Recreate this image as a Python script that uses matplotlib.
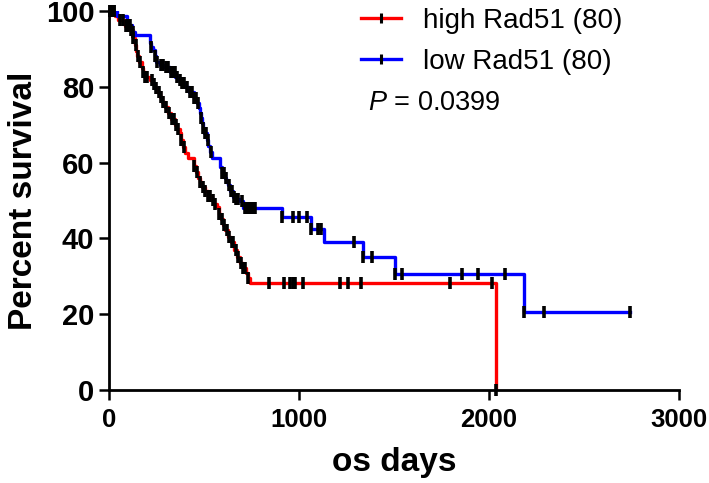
import numpy as np
import matplotlib.pyplot as plt
from matplotlib.lines import Line2D

plt.rcParams['font.family'] = 'Liberation Sans'
plt.rcParams['mathtext.fontset'] = 'custom'
plt.rcParams['mathtext.it'] = 'Liberation Sans:italic'
plt.rcParams['mathtext.rm'] = 'Liberation Sans'

# Kaplan-Meier steps (days, percent survival)
high_t = [0, 30, 50, 85, 110, 125, 135, 143, 150, 160, 172, 180, 188, 214, 228, 241,
          255, 267, 280, 293, 309, 325, 346, 360, 372, 380, 388, 400, 415, 445, 458,
          470, 480, 490, 505, 520, 540, 555, 570, 580, 590, 600, 610, 625, 640, 660,
          675, 690, 705, 720, 730, 741, 2037]
high_s = [100, 98.7, 97.5, 96, 95, 93, 91, 89.5, 88, 86.5, 85, 83.8, 82.6, 81.8, 80.7,
          79.7, 78.5, 77.3, 76, 74.7, 73, 71.5, 70, 69, 67.8, 66, 64, 62.5, 61.3, 59,
          57.5, 56, 54.8, 53.6, 52.4, 51.3, 50.1, 49.2, 48.3, 46.5, 45, 43.5, 42.2, 40.5,
          39, 36.9, 35, 33.5, 32.3, 31, 29.5, 28.2, 0]

low_t = [0, 40, 95, 120, 135, 215, 222, 230, 240, 250, 270, 290, 320, 350, 370, 385,
         400, 420, 445, 465, 472, 480, 485, 490, 495, 500, 515, 522, 530, 541, 584, 594,
         609, 617, 625, 638, 652, 670, 689, 704, 913, 1063, 1133, 1335, 1505, 2182, 2743]
low_s = [100, 98.7, 96.3, 94.5, 93.8, 91.5, 90.5, 89.7, 88, 86.5, 85.8, 85.2, 84, 82.6,
         81.8, 81, 80, 78.6, 77, 75.7, 74.4, 73, 71.8, 70.5, 69.2, 67.8, 66, 64.4, 62.8,
         61.2, 58.8, 57.3, 56, 55, 54, 52.5, 51, 50.5, 50, 48.1, 45.7, 42.4, 39, 35, 30.6,
         20.5, 20.5]

# censored times
high_cens = [5, 15, 25, 60, 75, 90, 100, 115, 128, 140, 155, 165, 180, 190, 200,
             225, 235, 250, 262, 275, 285, 300, 315, 330, 340, 355, 365, 380, 395,
             450, 465, 480, 495, 505, 520, 530, 550, 560, 580, 595, 605, 620, 630, 645,
             655, 670, 680, 695, 705, 715, 730, 842, 921, 952, 966, 978, 1021, 1215,
             1259, 1325, 1795, 2015, 2037]
low_cens = [5, 15, 25, 97, 105, 112, 125, 222, 240, 255, 275, 285, 300, 310, 325, 335,
            345, 360, 375, 385, 395, 410, 425, 435, 450, 460, 470, 485, 495, 505, 512,
            520, 535, 595, 605, 615, 630, 640, 650, 660, 670, 680, 700, 715, 725, 735,
            745, 760, 771, 913, 969, 999, 1040, 1063, 1101, 1114, 1289, 1335, 1382,
            1505, 1544, 1857, 1944, 2085, 2185, 2289, 2743]


def level(t, s, c):
    idx = np.searchsorted(np.array(t), np.array(c), side='right') - 1
    return np.array(s)[idx]


fig = plt.figure(figsize=(7.09, 4.83), dpi=100)
ax = fig.add_axes([0.1537, 0.1925, 0.804, 0.7847])

ax.step(high_t, high_s, where='post', color='#ff0000', lw=2.4)
ax.step(low_t, low_s, where='post', color='#0000ff', lw=2.4)
ax.plot(high_cens, level(high_t, high_s, high_cens), ls='none', marker='|',
        color='black', ms=8, mew=2.6, clip_on=False)
ax.plot(low_cens, level(low_t, low_s, low_cens), ls='none', marker='|',
        color='black', ms=8, mew=2.6, clip_on=False)

ax.set_xlim(0, 3000)
ax.set_ylim(0, 100)
ax.set_xticks([0, 1000, 2000, 3000])
ax.set_yticks([0, 20, 40, 60, 80, 100])
for side in ['top', 'right']:
    ax.spines[side].set_visible(False)
for side in ['left', 'bottom']:
    ax.spines[side].set_linewidth(2)
ax.tick_params(width=1.8, length=7)
ax.tick_params(axis='y', labelsize=21)
ax.tick_params(axis='x', pad=6, labelsize=18.5)
for lab in ax.get_xticklabels() + ax.get_yticklabels():
    lab.set_fontweight('bold')
ax.set_xlabel('os days', fontsize=24, fontweight='bold', labelpad=11)
ax.set_ylabel('Percent survival', fontsize=24, fontweight='bold', labelpad=5)

handles = [Line2D([], [], color='#ff0000', lw=2.4, marker='|', mec='black', ms=7, mew=2.2),
           Line2D([], [], color='#0000ff', lw=2.4, marker='|', mec='black', ms=7, mew=2.2)]
fig.legend(handles, ['high Rad51 (80)', 'low Rad51 (80)'], loc='upper left',
           bbox_to_anchor=(358 / 709, 1 - 5 / 483), frameon=False, fontsize=20, numpoints=1,
           handlelength=1.45, handletextpad=0.8, labelspacing=0.55, borderpad=0.1,
           borderaxespad=0)
fig.text(368 / 709, 1 - 103 / 483, '$P$ = 0.0399', fontsize=19.5, va='center')

fig.savefig('out.png', dpi=100)
